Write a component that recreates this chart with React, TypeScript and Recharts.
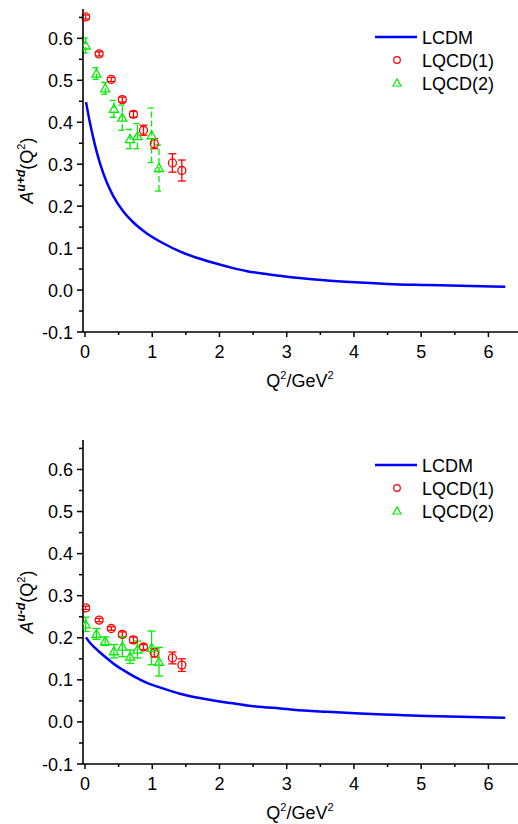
import { ComposedChart, Scatter, Line, XAxis, YAxis, ErrorBar, Legend } from 'recharts';

const FONT = '"Liberation Sans", Arial, sans-serif';

// LCDM curve, sampled along Q^2 (GeV^2)
const lcdmQ2 = [0.015, 0.074, 0.149, 0.223, 0.32, 0.42, 0.57, 0.72, 0.92, 1.17, 1.41, 1.66, 1.91, 2.16, 2.41, 2.66, 2.9, 3.1, 3.6, 4.09, 4.59, 5.08, 5.58, 6.25];
const lcdmUpD = [0.448, 0.398, 0.345, 0.302, 0.258, 0.224, 0.187, 0.161, 0.135, 0.111, 0.092, 0.077, 0.065, 0.054, 0.045, 0.039, 0.034, 0.030, 0.023, 0.018, 0.014, 0.012, 0.010, 0.008];
const lcdmUmD = [0.201, 0.188, 0.176, 0.165, 0.152, 0.139, 0.123, 0.109, 0.093, 0.079, 0.067, 0.058, 0.051, 0.045, 0.039, 0.035, 0.032, 0.029, 0.024, 0.020, 0.017, 0.014, 0.012, 0.010];

// LQCD(1)
const lqcd1Q2 = [0.01, 0.21, 0.39, 0.555, 0.72, 0.87, 1.03, 1.30, 1.44];
const lqcd1UpD = [0.651, 0.563, 0.502, 0.454, 0.419, 0.381, 0.349, 0.303, 0.285];
const lqcd1UpDErr = [0.005, 0.005, 0.005, 0.006, 0.007, 0.012, 0.012, 0.022, 0.025];
const lqcd1UmD = [0.271, 0.242, 0.222, 0.208, 0.195, 0.178, 0.164, 0.152, 0.135];
const lqcd1UmDErr = [0.004, 0.004, 0.004, 0.006, 0.007, 0.006, 0.010, 0.014, 0.015];

// LQCD(2)
const lqcd2Q2 = [0.01, 0.17, 0.30, 0.43, 0.555, 0.67, 0.78, 0.99, 1.10];
const lqcd2UpD = [0.583, 0.516, 0.481, 0.432, 0.411, 0.360, 0.367, 0.369, 0.291];
const lqcd2UpDErr = [0.018, 0.014, 0.014, 0.020, 0.030, 0.023, 0.030, 0.065, 0.055];
const lqcd2UmD = [0.232, 0.209, 0.192, 0.168, 0.179, 0.155, 0.172, 0.176, 0.143];
const lqcd2UmDErr = [0.017, 0.013, 0.010, 0.016, 0.024, 0.016, 0.020, 0.040, 0.034];

const xTicks = [0, 0.5, 1, 1.5, 2, 2.5, 3, 3.5, 4, 4.5, 5, 5.5, 6];
const yTicks = [-0.1, -0.05, 0, 0.05, 0.1, 0.15, 0.2, 0.25, 0.3, 0.35, 0.4, 0.45, 0.5, 0.55, 0.6, 0.65];
const legendLabels = ['LCDM', 'LQCD(1)', 'LQCD(2)'];

const X_DOMAIN: [number, number] = [-0.03, 6.44];
const Y_DOMAIN: [number, number] = [-0.1, 0.67];
const RED = '#ff0000';
const GREEN = '#00ee00';
const BLUE = '#0000ff';

const pts = (xs: number[], ys: number[], es?: number[]) =>
  xs.map((x, i) => ({ x, y: ys[i], e: es ? es[i] : 0 }));

const XTick = (props: any) => {
  const { x, y, payload } = props;
  const v = payload.value;
  const major = Math.abs(v - Math.round(v)) < 1e-6;
  return (
    <g>
      <line x1={x} x2={x} y1={y} y2={y + (major ? 5 : 3)} stroke="#000" strokeWidth={1.5} />
      {major && (
        <text x={x} y={y + 26} textAnchor="middle" fontSize={18} fontFamily={FONT} fill="#000">
          {v}
        </text>
      )}
    </g>
  );
};

const YTick = (props: any) => {
  const { x, y, payload } = props;
  const v = payload.value;
  const major = Math.abs(v * 10 - Math.round(v * 10)) < 1e-6;
  return (
    <g>
      <line x1={x} x2={x - (major ? 6 : 4)} y1={y} y2={y} stroke="#000" strokeWidth={1.5} />
      {major && (
        <text x={x - 10} y={y + 6.5} textAnchor="end" fontSize={18} fontFamily={FONT} fill="#000">
          {v.toFixed(1)}
        </text>
      )}
    </g>
  );
};

const RedCircle = (p: any) => (
  <circle cx={p.cx} cy={p.cy} r={4} fill="none" stroke={RED} strokeWidth={1.3} />
);

const GreenTriangle = (p: any) => (
  <polygon
    points={`${p.cx},${p.cy - 4.5} ${p.cx - 4.5},${p.cy + 3.5} ${p.cx + 4.5},${p.cy + 3.5}`}
    fill="none"
    stroke={GREEN}
    strokeWidth={1.3}
  />
);

const LegendBox = () => (
  <svg width={150} height={72}>
    <line x1={3} x2={45} y1={10} y2={10} stroke={BLUE} strokeWidth={2.5} />
    <circle cx={25} cy={33} r={3.3} fill="none" stroke={RED} strokeWidth={1.2} />
    <polygon points="25,52 21,59 29,59" fill="none" stroke={GREEN} strokeWidth={1.2} />
    {legendLabels.map((t, i) => (
      <text key={t} x={50} y={10 + i * 23 + 6.5} fontSize={18} fontFamily={FONT} fill="#000">
        {t}
      </text>
    ))}
  </svg>
);

type PanelProps = {
  top: number;
  height: number;
  xAxisHeight: number;
  legendTop: number;
  sup: string;
  dashed: boolean;
  curve: { x: number; y: number }[];
  red: { x: number; y: number; e: number }[];
  green: { x: number; y: number; e: number }[];
};

function Panel({ top, height, xAxisHeight, legendTop, sup, dashed, curve, red, green }: PanelProps) {
  const plotTop = 9;
  const plotBottom = height - xAxisHeight;
  const yMid = (plotTop + plotBottom) / 2;
  return (
    <div style={{ position: 'absolute', left: 0, top }}>
      <ComposedChart width={518} height={height} margin={{ top: plotTop, right: 0, bottom: 0, left: 0 }}>
        <XAxis
          xAxisId="top"
          orientation="top"
          type="number"
          domain={X_DOMAIN}
          allowDataOverflow
          tick={false}
          tickLine={false}
          height={0}
          axisLine={{ stroke: '#000', strokeWidth: 1.6 }}
        />
        <XAxis
          dataKey="x"
          type="number"
          domain={X_DOMAIN}
          allowDataOverflow
          ticks={xTicks}
          interval={0}
          tick={<XTick />}
          tickLine={false}
          tickSize={0}
          tickMargin={0}
          height={xAxisHeight}
          axisLine={{ stroke: '#000', strokeWidth: 1.6 }}
        />
        <YAxis
          type="number"
          domain={Y_DOMAIN}
          allowDataOverflow
          ticks={yTicks}
          interval={0}
          tick={<YTick />}
          tickLine={false}
          tickSize={0}
          tickMargin={0}
          width={83}
          axisLine={{ stroke: '#000', strokeWidth: 1.6 }}
        />
        <Line
          data={curve}
          dataKey="y"
          type="monotone"
          stroke={BLUE}
          strokeWidth={2.5}
          dot={false}
          activeDot={false}
          isAnimationActive={false}
        />
        <Scatter data={red} dataKey="y" shape={<RedCircle />} isAnimationActive={false}>
          <ErrorBar dataKey="e" direction="y" width={4} stroke={RED} strokeWidth={1.3} />
        </Scatter>
        <Scatter data={green} dataKey="y" shape={<GreenTriangle />} isAnimationActive={false}>
          <ErrorBar
            dataKey="e"
            direction="y"
            width={4}
            stroke={GREEN}
            strokeWidth={1.3}
            strokeDasharray={dashed ? '6 3' : undefined}
          />
        </Scatter>
        <Legend
          layout="vertical"
          align="center"
          verticalAlign="middle"
          content={() => <LegendBox />}
          wrapperStyle={{ top: legendTop, left: 372, width: 150, height: 72 }}
        />
        {/* axis titles */}
        <text
          transform={`rotate(-90, 27, ${yMid})`}
          x={27}
          y={yMid + 6}
          textAnchor="middle"
          fontSize={18}
          fontFamily={FONT}
          fill="#000"
        >
          <tspan fontStyle="italic">A</tspan>
          <tspan fontStyle="italic" fontWeight="bold" fontSize={12} dy={-8}>{sup}</tspan>
          <tspan dy={8}>(Q</tspan>
          <tspan fontSize={11} dy={-8}>2</tspan>
          <tspan dy={8}>)</tspan>
        </text>
        <text x={300} y={plotBottom + 55} textAnchor="middle" fontSize={18} fontFamily={FONT} fill="#000">
          <tspan>Q</tspan>
          <tspan fontSize={11} dy={-8}>2</tspan>
          <tspan dy={8}>/GeV</tspan>
          <tspan fontSize={11} dy={-8}>2</tspan>
        </text>
      </ComposedChart>
    </div>
  );
}

export default function App() {
  return (
    <div style={{ position: 'absolute', left: 0, top: 0, width: 518, height: 824, background: '#fff' }}>
      <Panel
        top={0}
        height={431}
        xAxisHeight={99}
        legendTop={27}
        sup="u+d"
        dashed
        curve={pts(lcdmQ2, lcdmUpD)}
        red={pts(lqcd1Q2, lqcd1UpD, lqcd1UpDErr)}
        green={pts(lqcd2Q2, lqcd2UpD, lqcd2UpDErr)}
      />
      <Panel
        top={431}
        height={393}
        xAxisHeight={60}
        legendTop={24}
        sup="u-d"
        dashed={false}
        curve={pts(lcdmQ2, lcdmUmD)}
        red={pts(lqcd1Q2, lqcd1UmD, lqcd1UmDErr)}
        green={pts(lqcd2Q2, lqcd2UmD, lqcd2UmDErr)}
      />
    </div>
  );
}
